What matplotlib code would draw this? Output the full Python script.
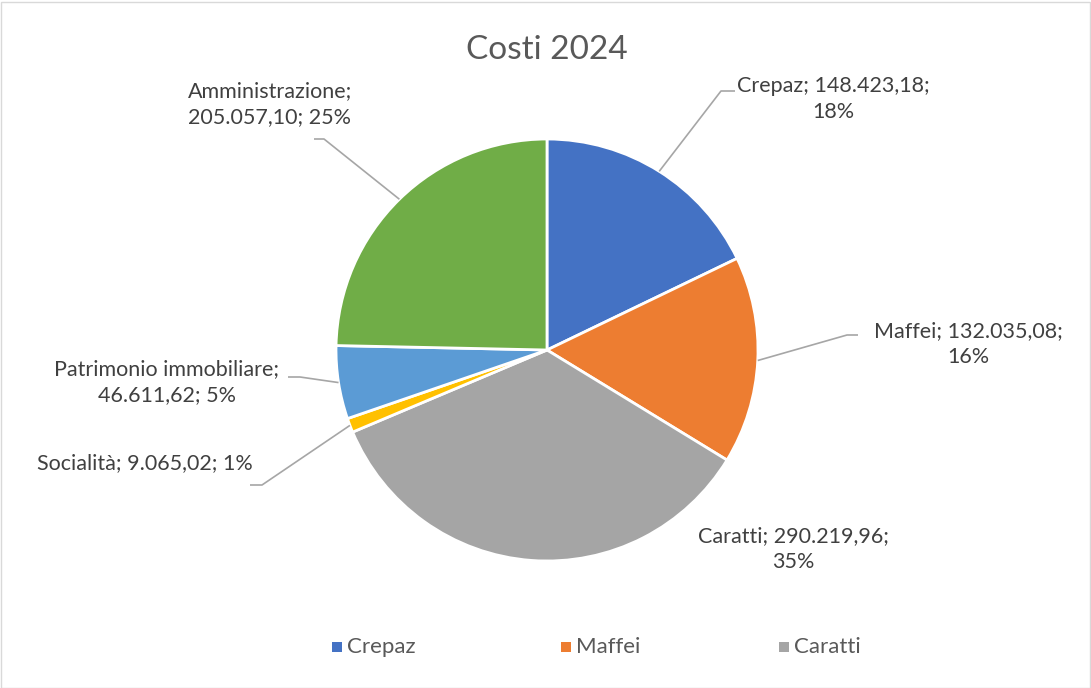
import numpy as np
import matplotlib
matplotlib.use("Agg")
import matplotlib.pyplot as plt
from matplotlib.patches import Rectangle

plt.rcParams['font.family'] = ['Lato', 'DejaVu Sans']

title = "Costi 2024"
categories = ["Crepaz", "Maffei", "Caratti", "Socialità", "Patrimonio immobiliare", "Amministrazione"]
values = [148423.18, 132035.08, 290219.96, 9065.02, 46611.62, 205057.10]
value_labels = ["148.423,18", "132.035,08", "290.219,96", "9.065,02", "46.611,62", "205.057,10"]
pct_labels = ["18%", "16%", "35%", "1%", "5%", "25%"]
colors = ["#4472C4", "#ED7D31", "#A5A5A5", "#FFC000", "#5B9BD5", "#70AD47"]
legend_items = ["Crepaz", "Maffei", "Caratti"]

W, H = 1091, 688
fig = plt.figure(figsize=(W / 100, H / 100), dpi=100)
ax = fig.add_axes([0, 0, 1, 1])

cx, cy, R = 547, H - 350, 211
wedges, _ = ax.pie(values, colors=colors, startangle=90, counterclock=False,
                   center=(cx, cy), radius=R, frame=True,
                   wedgeprops=dict(edgecolor='white', linewidth=2))
ax.set_xlim(0, W)
ax.set_ylim(0, H)
ax.set_aspect('equal')
ax.axis('off')

# border
fig.patches.append(Rectangle((0.5 / W, 0.5 / H), (W - 2) / W, (H - 2) / H,
                             transform=fig.transFigure, fill=False,
                             edgecolor='#D9D9D9', linewidth=1))

ax.text(547, H - 50, title, ha='center', va='center', fontsize=24, color='#595959')

# label layouts: (format, x, y_center, leader_elbow, leader_end)
layout = [
    ("{c}; {v};\n{p}", 833, 99, (721, 91), (735, 91)),
    ("{c}; {v};\n{p}", 968, 344, (847, 335), (858, 335)),
    ("{c}; {v};\n{p}", 793, 549, None, None),
    ("{c}; {v}; {p}", 145, 463, (262, 485), (250, 485)),
    ("{c};\n{v}; {p}", 167, 382, (300, 377), (288, 377)),
    ("{c};\n{v}; {p}", 270, 104, (324, 139), (314, 139)),
]

for w, c, v, p, (fmt, tx, ty, elbow, end) in zip(wedges, categories, value_labels, pct_labels, layout):
    ax.text(tx, H - ty, fmt.format(c=c, v=v, p=p), ha='center', va='center',
            fontsize=15.5, color='#404040', linespacing=1.4)
    if elbow is not None:
        mid = np.deg2rad((w.theta1 + w.theta2) / 2)
        sx, sy = cx + R * np.cos(mid), cy + R * np.sin(mid)
        ax.plot([sx, elbow[0], end[0]], [sy, H - elbow[1], H - end[1]],
                color='#A6A6A6', linewidth=1.2, solid_capstyle='butt')

# legend (only first three entries, as in the original)
legend_x = [337, 566, 784]
for name, lx in zip(legend_items, legend_x):
    ax.scatter([lx], [H - 647], marker='s', s=45, color=colors[categories.index(name)],
               edgecolors='none')
    ax.text(lx + 10, H - 647, name, ha='left', va='center', fontsize=16, color='#595959')

fig.savefig("out.png", dpi=100)
